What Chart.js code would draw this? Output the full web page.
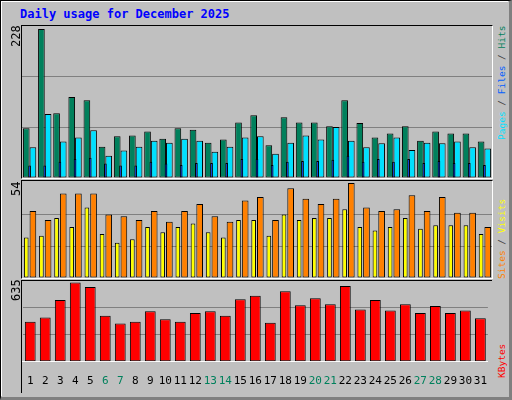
<!DOCTYPE html>
<html><head><meta charset="utf-8">
<script src="https://cdn.jsdelivr.net/npm/chart.js@4"></script>
<style>
body{margin:0;}
#f{position:relative;width:508px;height:396px;background:#c0c0c0;border-top:1px solid #000;border-left:1px solid #000;border-right:3px solid #808080;border-bottom:3px solid #808080;font-family:"DejaVu Sans Mono",monospace;}
#inner{position:absolute;left:0;top:0;width:506px;height:394px;border-top:1px solid #fff;border-left:1px solid #fff;}
.t{position:absolute;left:19px;top:6px;color:#0000ff;font-weight:bold;font-size:12px;}
.p{position:absolute;left:20px;width:470px;border-top:1px solid #000;border-left:1px solid #000;border-right:1px solid #fff;border-bottom:1px solid #fff;}
.r{position:absolute;transform-origin:left top;transform:rotate(-90deg);font-size:12px;white-space:nowrap;}
.rs{font-size:9.5px;}
canvas{display:block;}
</style></head><body>
<div id="f"><div id="inner"></div>
<div class="t">Daily usage for December 2025</div>
<div class="p" style="top:24px;height:152px"><canvas id="c1" width="470" height="152"></canvas></div>
<div class="p" style="top:179px;height:97px"><canvas id="c2" width="470" height="97"></canvas></div>
<div class="p" style="top:279px;height:112px;border-bottom:none;border-right:none"><canvas id="c3" width="470" height="112"></canvas></div>
<div class="r" style="left:8px;top:46px">228</div>
<div class="r" style="left:8px;top:195px">54</div>
<div class="r" style="left:8px;top:300px">635</div>
<div class="r rs" style="left:495px;top:139px"><span style="color:#00e0ff">Pages</span><span style="color:#404040"> / </span><span style="color:#0060ff">Files</span><span style="color:#404040"> / </span><span style="color:#00805c">Hits</span></div>
<div class="r rs" style="left:495px;top:278px"><span style="color:#ff8000">Sites</span><span style="color:#404040"> / </span><span style="color:#ffff00">Visits</span></div>
<div class="r rs" style="left:495px;top:377px"><span style="color:#ff0000">KBytes</span></div>
</div>
<script>
const days=[...Array(31)].map((_,i)=>String(i+1));
const weekend=[6,7,13,14,20,21,27,28];
const hits=[76,228,99,124,119,48,64,65,71,60,76,74,54,59,85,96,50,93,85,85,79,119,84,62,68,79,57,71,68,68,56];
const files=[47,98,56,62,73,34,42,48,57,54,60,57,40,48,62,64,37,54,65,59,78,57,47,53,62,43,54,53,56,47,45];
const pages=[19,19,25,29,31,22,19,19,25,22,20,23,23,23,29,29,20,25,26,26,28,34,25,29,25,29,23,26,23,23,20];
const visits=[38,33,48,48,48,36,35,33,38,32,38,42,35,32,44,46,33,51,45,42,45,54,40,38,39,47,38,46,37,37,29];
const sites=[23,24,34,29,40,25,20,22,29,26,29,31,26,23,33,33,24,36,33,34,34,39,29,27,29,34,28,30,30,30,25];
const kbytes=[321,356,495,635,600,370,307,321,405,342,321,391,405,370,502,530,314,565,454,509,461,607,419,495,412,461,391,447,391,412,349];
const maxs=[228,54,635];
function yAx(m){return {min:0,max:m*1.02,display:true,border:{display:false},ticks:{display:false,stepSize:m/3},
 grid:{drawTicks:false,color:c=>(c.tick.value>0.1&&c.tick.value<m*0.99)?'#808080':'rgba(0,0,0,0)',lineWidth:1}};}
const bs={borderColor:'#000',borderWidth:1,borderSkipped:false,categoryPercentage:0.88,barPercentage:1};
const common={responsive:false,animation:false,plugins:{legend:{display:false},tooltip:{enabled:false}},layout:{padding:0}};
new Chart(document.getElementById('c1'),{type:'bar',data:{labels:days,datasets:[
 {data:pages,grouped:false,backgroundColor:'#0040ff',borderColor:'#000',borderWidth:1,borderSkipped:false,categoryPercentage:1,barPercentage:0.18,order:0},
 {data:hits,backgroundColor:'#00805c',...bs,order:1},
 {data:files,backgroundColor:'#00e0ff',...bs,order:1}]},
 options:{...common,scales:{x:{display:false},y:yAx(maxs[0])}}});
new Chart(document.getElementById('c2'),{type:'bar',data:{labels:days,datasets:[
 {data:sites,backgroundColor:'#ffff00',...bs,barPercentage:0.7},
 {data:visits,backgroundColor:'#ff8000',...bs}]},
 options:{...common,scales:{x:{display:false},y:yAx(maxs[1])}}});
new Chart(document.getElementById('c3'),{type:'bar',data:{labels:days,datasets:[
 {data:kbytes,backgroundColor:'#ff0000',...bs,categoryPercentage:0.72}]},
 options:{...common,scales:{x:{display:true,border:{display:true,color:'#fff',width:1},grid:{display:false},
   ticks:{padding:5,maxRotation:0,autoSkip:false,font:{family:'DejaVu Sans Mono',size:11},color:c=>weekend.includes(c.index+1)?'#00805c':'#000'}},
   y:yAx(maxs[2])}}});
</script></body></html>
